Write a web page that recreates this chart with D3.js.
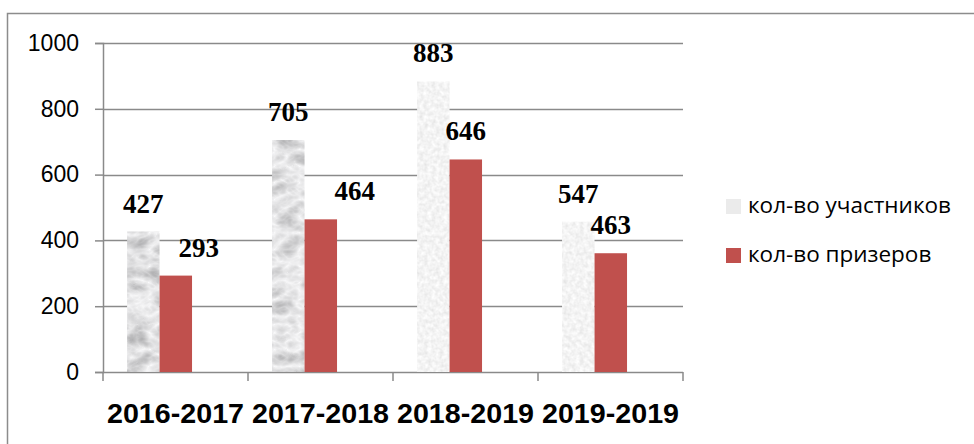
<!DOCTYPE html>
<html lang='ru'>
<head>
   <meta charset='UTF-8'>
   <title>Участники и призеры</title>
   <script src='https://d3js.org/d3.v7.min.js'></script>
   <style>
      body { margin: 0; background: #fff; }
      svg { display: block; }
   </style>
</head>
<body>
   <div id='chart'></div>
   <script>
      // data
      const years = ['2016-2017', '2017-2018', '2018-2019', '2019-2019'];
      const participants = [427, 705, 883, 457];
      const winners = [293, 464, 646, 361];
      // the printed data labels (last group's labels don't match its bars)
      const participantLabels = ['427', '705', '883', '547'];
      const winnerLabels = ['293', '464', '646', '463'];
      const seriesNames = ['кол-во участников', 'кол-во призеров'];
      const yTicks = [0, 200, 400, 600, 800, 1000];

      const W = 974, H = 444;
      const plot = { left: 103, right: 683, top: 43, bottom: 372 };

      const svg = d3.select('#chart').append('svg').attr('width', W).attr('height', H);

      // textures for the participant bars
      const defs = svg.append('defs');
      const marble = defs.append('filter').attr('id', 'marble')
         .attr('x', 0).attr('y', 0).attr('width', 1).attr('height', 1);
      marble.append('feTurbulence').attr('type', 'turbulence')
         .attr('baseFrequency', '0.04 0.06').attr('numOctaves', 3).attr('seed', 7).attr('result', 'n');
      marble.append('feColorMatrix').attr('in', 'n').attr('type', 'matrix')
         .attr('values', '-0.7 0 0 0 0.95  -0.7 0 0 0 0.95  -0.7 0 0 0 0.96  0 0 0 0 1').attr('result', 'c');
      marble.append('feComposite').attr('in', 'c').attr('in2', 'SourceGraphic').attr('operator', 'in');

      const speckle = defs.append('filter').attr('id', 'speckle')
         .attr('x', 0).attr('y', 0).attr('width', 1).attr('height', 1);
      speckle.append('feTurbulence').attr('type', 'fractalNoise')
         .attr('baseFrequency', 0.25).attr('numOctaves', 2).attr('seed', 3).attr('result', 'n');
      speckle.append('feColorMatrix').attr('in', 'n').attr('type', 'matrix')
         .attr('values', '0.3 0 0 0 0.75  0.3 0 0 0 0.75  0.3 0 0 0 0.75  0 0 0 0 1').attr('result', 'c');
      speckle.append('feComposite').attr('in', 'c').attr('in2', 'SourceGraphic').attr('operator', 'in');

      // outer frame (open at right and bottom, like the screenshot)
      svg.append('rect').attr('x', 7.5).attr('y', 13.5).attr('width', 1000).attr('height', 500)
         .attr('fill', 'none').attr('stroke', '#8c8c8c').attr('stroke-width', 1.5);

      const x = d3.scaleBand().domain(years).range([plot.left, plot.right]).padding(0);
      const bw = x.bandwidth();
      const xs = d3.scaleBand().domain(seriesNames).range([bw * 0.166, bw * 0.614]).padding(0);
      const y = d3.scaleLinear().domain([0, 1000]).range([plot.bottom, plot.top]);

      // gridlines
      svg.append('g').selectAll('line').data(yTicks.slice(1)).join('line')
         .attr('x1', plot.left).attr('x2', plot.right)
         .attr('y1', d => Math.round(y(d)) + 0.5).attr('y2', d => Math.round(y(d)) + 0.5)
         .attr('stroke', '#8a8a8a').attr('stroke-width', 1.5);

      // y axis
      const yAxis = svg.append('g').attr('transform', `translate(${plot.left},0)`)
         .call(d3.axisLeft(y).tickValues(yTicks).tickFormat(d3.format('d')).tickSize(8).tickPadding(16));
      yAxis.select('.domain').attr('stroke', '#8a8a8a').attr('stroke-width', 1.5);
      yAxis.selectAll('.tick line').attr('stroke', '#8a8a8a').attr('stroke-width', 1.5);
      yAxis.selectAll('.tick text').attr('fill', '#000')
         .style('font-family', "'Liberation Sans', Arial, sans-serif").style('font-size', '23px');

      // x axis with ticks at category boundaries
      const xAxisG = svg.append('g');
      xAxisG.append('line').attr('x1', plot.left).attr('x2', plot.right)
         .attr('y1', plot.bottom + 0.5).attr('y2', plot.bottom + 0.5)
         .attr('stroke', '#8a8a8a').attr('stroke-width', 1.5);
      const bounds = years.map(d => x(d)).concat([plot.right]);
      xAxisG.selectAll('.bt').data(bounds).join('line').attr('class', 'bt')
         .attr('x1', d => d).attr('x2', d => d)
         .attr('y1', plot.bottom).attr('y2', plot.bottom + 9)
         .attr('stroke', '#8a8a8a').attr('stroke-width', 1.5);
      xAxisG.selectAll('text').data(years).join('text')
         .attr('x', d => x(d) + bw / 2).attr('y', 423)
         .attr('text-anchor', 'middle')
         .attr('textLength', 137).attr('lengthAdjust', 'spacingAndGlyphs')
         .style('font-family', "'Liberation Sans', Arial, sans-serif")
         .style('font-size', '28px').style('font-weight', 'bold')
         .text(d => d);

      // bars
      svg.append('g').selectAll('rect').data(participants).join('rect')
         .attr('x', (d, i) => x(years[i]) + xs(seriesNames[0]))
         .attr('y', d => y(d))
         .attr('width', xs.bandwidth())
         .attr('height', d => y(0) - y(d))
         .attr('fill', '#ddd')
         .attr('filter', (d, i) => i < 2 ? 'url(#marble)' : 'url(#speckle)');

      svg.append('g').selectAll('rect').data(winners).join('rect')
         .attr('x', (d, i) => x(years[i]) + xs(seriesNames[1]))
         .attr('y', d => y(d))
         .attr('width', xs.bandwidth())
         .attr('height', d => y(0) - y(d))
         .attr('fill', '#c0504d');

      // data labels (two of the winner labels were nudged right in the original)
      const winnerNudge = [23, 34, 0, 0];
      const labelFont = "'Liberation Serif', 'Times New Roman', serif";
      svg.append('g').selectAll('text').data(participants).join('text')
         .attr('x', (d, i) => x(years[i]) + xs(seriesNames[0]) + xs.bandwidth() / 2)
         .attr('y', d => y(d) - 19)
         .attr('text-anchor', 'middle')
         .style('font-family', labelFont).style('font-size', '27px').style('font-weight', 'bold')
         .text((d, i) => participantLabels[i]);
      svg.append('g').selectAll('text').data(winners).join('text')
         .attr('x', (d, i) => x(years[i]) + xs(seriesNames[1]) + xs.bandwidth() / 2 + winnerNudge[i])
         .attr('y', d => y(d) - 19)
         .attr('text-anchor', 'middle')
         .style('font-family', labelFont).style('font-size', '27px').style('font-weight', 'bold')
         .text((d, i) => winnerLabels[i]);

      // legend
      const legend = svg.append('g').attr('transform', 'translate(726,199)');
      const items = legend.selectAll('g').data(seriesNames).join('g')
         .attr('transform', (d, i) => `translate(0,${i * 49})`);
      items.append('rect').attr('width', 15).attr('height', 15)
         .attr('fill', (d, i) => i === 0 ? '#ebebeb' : '#c0504d');
      items.append('text').attr('x', 22).attr('y', 14)
         .style('font-family', "'Open Sans', 'Liberation Sans', sans-serif").style('font-size', '22.5px')
         .text(d => d);
   </script>
</body>
</html>
